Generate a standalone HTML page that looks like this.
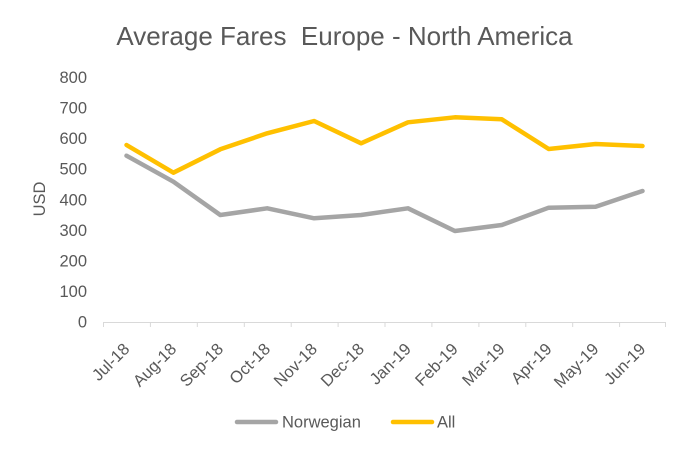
<!DOCTYPE html>
<html>
<head>
<meta charset="utf-8">
<style>
  html, body { margin: 0; padding: 0; background: #ffffff; }
  svg { display: block; }
  text { font-family: "Liberation Sans", sans-serif; fill: #595959; }
</style>
</head>
<body>
<svg width="689" height="452" viewBox="0 0 689 452" xmlns="http://www.w3.org/2000/svg">
  <rect x="0" y="0" width="689" height="452" fill="#ffffff"/>

  <!-- Title -->
  <text x="344.5" y="45" font-size="26" text-anchor="middle" xml:space="preserve">Average Fares  Europe - North America</text>

  <!-- Y axis title -->
  <text transform="translate(45,199) rotate(-90)" font-size="16.5" text-anchor="middle">USD</text>

  <!-- Y tick labels -->
  <g font-size="16.5" text-anchor="end">
    <text x="87" y="83">800</text>
    <text x="87" y="113.6">700</text>
    <text x="87" y="144.2">600</text>
    <text x="87" y="174.7">500</text>
    <text x="87" y="205.3">400</text>
    <text x="87" y="235.9">300</text>
    <text x="87" y="266.5">200</text>
    <text x="87" y="297.1">100</text>
    <text x="87" y="327.6">0</text>
  </g>

  <!-- X axis -->
  <g stroke="#D9D9D9" stroke-width="1" fill="none">
    <line x1="103" y1="322.5" x2="666" y2="322.5"/>
    <line x1="103.5" y1="322" x2="103.5" y2="327"/>
    <line x1="150.4" y1="322" x2="150.4" y2="327"/>
    <line x1="197.3" y1="322" x2="197.3" y2="327"/>
    <line x1="244.3" y1="322" x2="244.3" y2="327"/>
    <line x1="291.2" y1="322" x2="291.2" y2="327"/>
    <line x1="338.1" y1="322" x2="338.1" y2="327"/>
    <line x1="385.0" y1="322" x2="385.0" y2="327"/>
    <line x1="431.9" y1="322" x2="431.9" y2="327"/>
    <line x1="478.9" y1="322" x2="478.9" y2="327"/>
    <line x1="525.8" y1="322" x2="525.8" y2="327"/>
    <line x1="572.7" y1="322" x2="572.7" y2="327"/>
    <line x1="619.6" y1="322" x2="619.6" y2="327"/>
    <line x1="665.5" y1="322" x2="665.5" y2="327"/>
  </g>

  <!-- X tick labels -->
  <g font-size="16.5" text-anchor="end">
    <text transform="translate(130.5,350) rotate(-45)">Jul-18</text>
    <text transform="translate(177.4,350) rotate(-45)">Aug-18</text>
    <text transform="translate(224.3,350) rotate(-45)">Sep-18</text>
    <text transform="translate(271.2,350) rotate(-45)">Oct-18</text>
    <text transform="translate(318.1,350) rotate(-45)">Nov-18</text>
    <text transform="translate(365.1,350) rotate(-45)">Dec-18</text>
    <text transform="translate(412.0,350) rotate(-45)">Jan-19</text>
    <text transform="translate(458.9,350) rotate(-45)">Feb-19</text>
    <text transform="translate(505.8,350) rotate(-45)">Mar-19</text>
    <text transform="translate(552.7,350) rotate(-45)">Apr-19</text>
    <text transform="translate(599.6,350) rotate(-45)">May-19</text>
    <text transform="translate(646.5,350) rotate(-45)">Jun-19</text>
  </g>

  <!-- Norwegian series -->
  <polyline fill="none" stroke="#A5A5A5" stroke-width="4.5" stroke-linejoin="round" stroke-linecap="round"
    points="126.5,155.7 173.4,181.7 220.3,215 267.2,208.3 314.1,218.3 361.1,215 408,208.3 454.9,231 501.8,225 548.7,207.7 595.6,206.7 642.5,191"/>

  <!-- All series -->
  <polyline fill="none" stroke="#FFC000" stroke-width="4.5" stroke-linejoin="round" stroke-linecap="round"
    points="126.5,145 173.4,172.7 220.3,149.3 267.2,133.3 314.1,121 361.1,143.3 408,122.3 454.9,117.3 501.8,119.3 548.7,149 595.6,144 642.5,146"/>

  <!-- Legend -->
  <line x1="237" y1="422" x2="276" y2="422" stroke="#A5A5A5" stroke-width="4.5" stroke-linecap="round"/>
  <text x="282" y="427.5" font-size="16.5">Norwegian</text>
  <line x1="393" y1="422" x2="432" y2="422" stroke="#FFC000" stroke-width="4.5" stroke-linecap="round"/>
  <text x="437" y="427.5" font-size="16.5">All</text>
</svg>
</body>
</html>
